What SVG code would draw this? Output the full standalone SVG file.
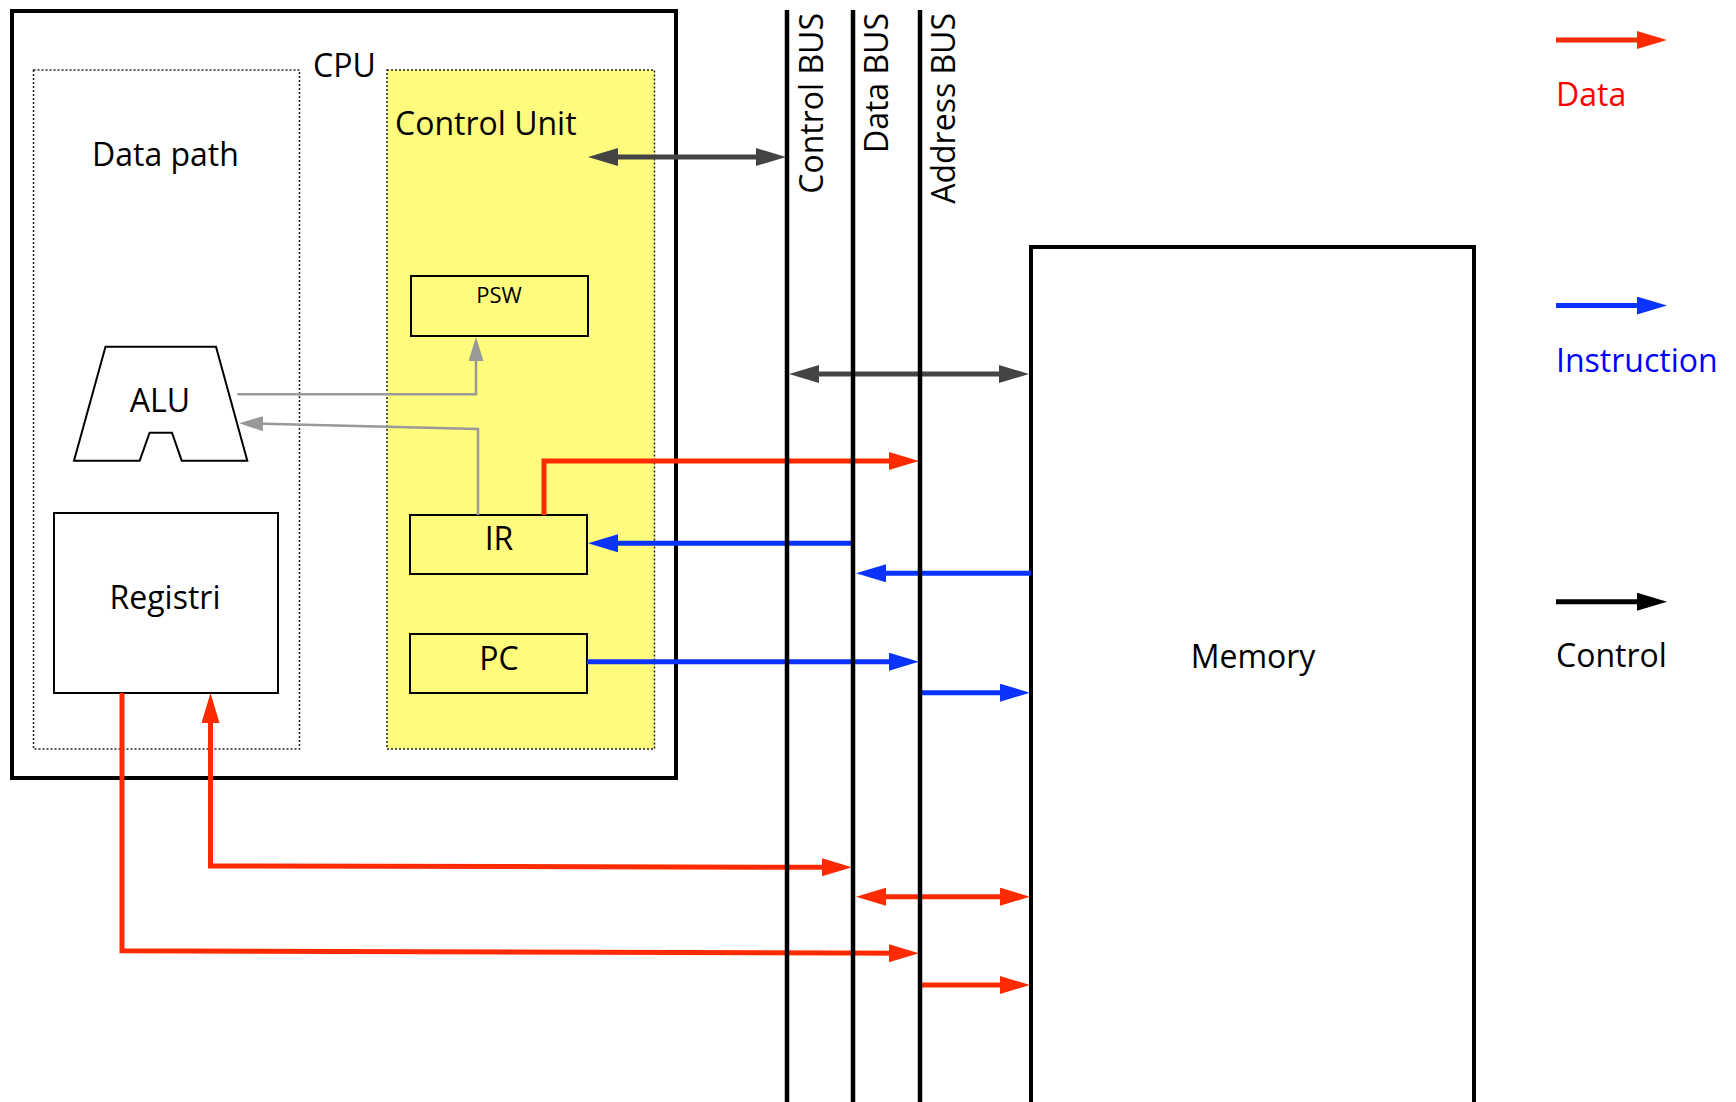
<svg xmlns="http://www.w3.org/2000/svg" width="1736" height="1102" viewBox="0 0 1736 1102">
<style>
text{font-family:"Open Sans","Liberation Sans",sans-serif;font-size:32px;fill:#000}
.box{fill:none;stroke:#000;stroke-width:2}
.ybox{fill:#FFFB7D;stroke:#000;stroke-width:2}
.dot{stroke:#222;stroke-width:1.5;stroke-dasharray:2 2}
.red{fill:none;stroke:#FF2A00;stroke-width:5}
.blue{fill:none;stroke:#0A33FF;stroke-width:5}
.gray{fill:none;stroke:#444;stroke-width:5}
.lgray{fill:none;stroke:#999;stroke-width:2.5}
.bus{stroke:#000;stroke-width:4.5}
</style>
<defs>
<marker id="aR" markerUnits="userSpaceOnUse" markerWidth="30" markerHeight="18" refX="20" refY="9" orient="auto-start-reverse"><path d="M0,0 L30,9 L0,18 z" fill="#FF2A00"/></marker>
<marker id="aB" markerUnits="userSpaceOnUse" markerWidth="30" markerHeight="18" refX="20" refY="9" orient="auto-start-reverse"><path d="M0,0 L30,9 L0,18 z" fill="#0A33FF"/></marker>
<marker id="aG" markerUnits="userSpaceOnUse" markerWidth="30" markerHeight="18" refX="20" refY="9" orient="auto-start-reverse"><path d="M0,0 L30,9 L0,18 z" fill="#444"/></marker>
<marker id="aK" markerUnits="userSpaceOnUse" markerWidth="30" markerHeight="18" refX="20" refY="9" orient="auto-start-reverse"><path d="M0,0 L30,9 L0,18 z" fill="#000"/></marker>
<marker id="aL" markerUnits="userSpaceOnUse" markerWidth="24" markerHeight="15" refX="18" refY="7.5" orient="auto-start-reverse"><path d="M0,0 L24,7.5 L0,15 z" fill="#999"/></marker>
</defs>

<g id="cpu">
<rect x="12" y="11" width="664" height="767" fill="#fff" stroke="#000" stroke-width="4"/>
<text x="313" y="77">CPU</text>
</g>
<g id="datapath">
<rect class="dot" x="33.5" y="70" width="266" height="679" fill="none"/>
<text x="92" y="166">Data path</text>
</g>
<g id="controlunit">
<rect class="dot" x="387" y="70" width="267.5" height="679" fill="#FFFB7D"/>
<text x="395" y="135">Control Unit</text>
</g>
<g id="psw">
<rect class="ybox" x="411" y="276" width="177" height="60"/>
<text x="499" y="303" text-anchor="middle" style="font-size:22px">PSW</text>
</g>
<g id="ir">
<rect class="ybox" x="410" y="515" width="177" height="59"/>
<text x="499" y="550" text-anchor="middle">IR</text>
</g>
<g id="pc">
<rect class="ybox" x="410" y="634" width="177" height="59"/>
<text x="499" y="670" text-anchor="middle">PC</text>
</g>
<g id="alu">
<path d="M105.5,346.7 L216,346.7 L247.3,460.7 L181.7,460.7 L172,432.7 L149.6,432.7 L139.7,460.7 L74,460.7 Z" fill="#fff" stroke="#000" stroke-width="2"/>
<text x="160" y="412" text-anchor="middle">ALU</text>
</g>
<g id="registri">
<rect class="box" x="54" y="513" width="224" height="180" fill="#fff"/>
<text x="165" y="609" text-anchor="middle">Registri</text>
</g>
<g id="memory">
<rect x="1031" y="247" width="443" height="900" fill="none" stroke="#000" stroke-width="4"/>
<text x="1253" y="668" text-anchor="middle">Memory</text>
</g>

<g id="connectors">
<path class="lgray" d="M237.5,394.3 H476 V343" marker-end="url(#aL)"/>
<path class="lgray" d="M478,515 V429 L245,423.3" marker-end="url(#aL)"/>
<path class="gray" d="M598,157 H776" marker-start="url(#aG)" marker-end="url(#aG)"/>
<path class="gray" d="M799,374 H1019" marker-start="url(#aG)" marker-end="url(#aG)"/>
<path class="red" d="M544,515 V461 H909" marker-end="url(#aR)"/>
<path class="blue" d="M853,543.3 H598" marker-end="url(#aB)"/>
<path class="blue" d="M1031,573.3 H866" marker-end="url(#aB)"/>
<path class="blue" d="M587,661.7 H909" marker-end="url(#aB)"/>
<path class="blue" d="M920,692.7 H1020" marker-end="url(#aB)"/>
<path class="red" d="M122,693 V950.7 L909,953.3" marker-end="url(#aR)"/>
<path class="red" d="M842,867.3 L210.5,866 V703" marker-start="url(#aR)" marker-end="url(#aR)"/>
<path class="red" d="M866,896.7 H1020" marker-start="url(#aR)" marker-end="url(#aR)"/>
<path class="red" d="M921,985 H1020" marker-end="url(#aR)"/>
</g>

<g id="buses">
<line class="bus" x1="787" y1="10" x2="787" y2="1102"/>
<line class="bus" x1="853" y1="10" x2="853" y2="1102"/>
<line class="bus" x1="920" y1="10" x2="920" y2="1102"/>
<text transform="translate(823,13) rotate(-90)" text-anchor="end">Control BUS</text>
<text transform="translate(888,13) rotate(-90)" text-anchor="end">Data BUS</text>
<text transform="translate(955,13) rotate(-90)" text-anchor="end">Address BUS</text>
</g>

<g id="legend">
<path class="red" d="M1556,40 H1657" marker-end="url(#aR)"/>
<text x="1556" y="106" style="fill:#FF0000">Data</text>
<path class="blue" d="M1556,305.6 H1657" marker-end="url(#aB)"/>
<text x="1556" y="372" style="fill:#0000FF">Instruction</text>
<path d="M1556,601.7 H1657" fill="none" stroke="#000" stroke-width="5" marker-end="url(#aK)"/>
<text x="1556" y="667">Control</text>
</g>
</svg>
